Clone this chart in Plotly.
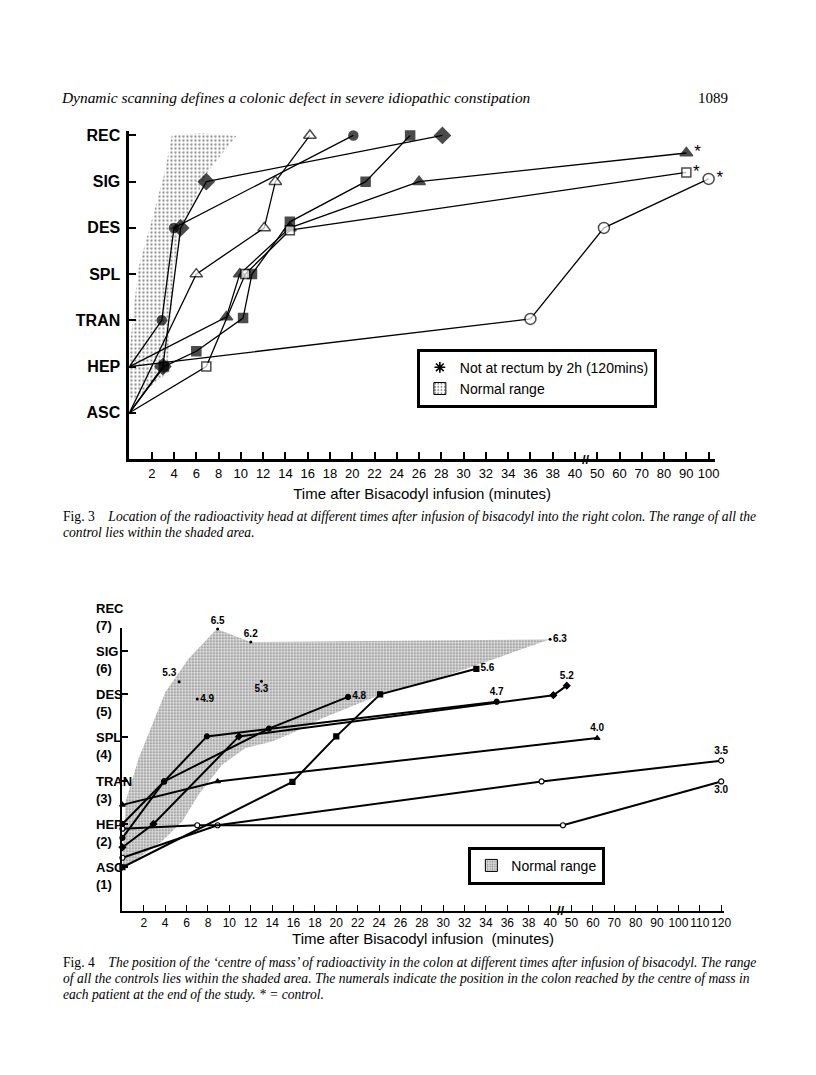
import plotly.graph_objects as go

# page is 816x1075; the browser adds an 8px body margin, so the figure is 800x1059
MARGIN = 8
W, H = 816 - 2 * MARGIN, 1075 - 2 * MARGIN
OFFX, OFFY = 8, 11


def fx(p):  # page pixel x -> paper fraction
    return (p - OFFX) / W


def fy(p):  # page pixel y -> paper fraction
    return 1 - (p - OFFY) / H


# ---------------- data ----------------
levels3 = ["ASC", "HEP", "TRAN", "SPL", "DES", "SIG", "REC"]
xticks3_min = [2, 4, 6, 8, 10, 12, 14, 16, 18, 20, 22, 24, 26, 28, 30, 32, 34, 36, 38, 40,
               50, 60, 70, 80, 90, 100]
xticks4_min = [2, 4, 6, 8, 10, 12, 14, 16, 18, 20, 22, 24, 26, 28, 30, 32, 34, 36, 38, 40,
               50, 60, 70, 80, 90, 100, 110, 120]

# Fig 3 : location of radioactivity head (level 1=ASC ... 7=REC)
circ_t = [0, 2.9, 4.0, 20.1]
circ_L = [2, 3, 5, 7]
diam_t = [0, 3.0, 4.6, 6.9, 28.1]
diam_L = [1, 2, 5, 6, 7]
otri_t = [0, 6.0, 12.1, 13.1, 16.2]
otri_L = [1, 4, 5, 6, 7]
fsq_t = [0, 3.1, 6.0, 10.2, 11.0, 14.4, 21.2, 25.2]
fsq_L = [1, 2, 2.33, 3.05, 4, 5.13, 6, 7]
ftri_t = [0, 8.7, 9.9, 14.4, 26.0, 90]
ftri_L = [2, 3.07, 4, 5, 6, 6.62]
osq_t = [0, 6.9, 10.4, 14.4, 90]
osq_L = [1, 2, 4, 4.95, 6.2]
ocirc_t = [0, 36, 53, 100]
ocirc_L = [2, 3.03, 5.0, 6.06]

norm3_t = [0, 0, 0.4, 0.83, 2.0, 3.2, 3.8, 6.5, 9.6, 7.1, 5.0, 4.0, 3.7, 3.4, 0.5]
norm3_L = [1.29, 2.3, 3.3, 4.16, 5.17, 6.24, 7.0, 7.05, 6.99, 6.24, 5.17, 4.16, 3.01, 1.86, 1.29]

# Fig 4 : centre of mass
s40_t = [0, 8.9, 62]
s40_L = [2.44, 2.98, 3.98]
s35_t = [0, 8.9, 39.2, 120]
s35_L = [1.22, 1.97, 2.98, 3.46]
s30_t = [0, 7.0, 46, 120]
s30_L = [1.89, 1.97, 1.97, 2.98]
s56_t = [0, 15.9, 20, 24.1, 33.1]
s56_L = [1.0, 2.97, 4.02, 4.99, 5.58]
s47_t = [0, 3.9, 7.9, 35]
s47_L = [2.0, 2.98, 4.02, 4.82]
s52_t = [0, 2.9, 10.9, 41.5, 47.8]
s52_L = [1.46, 2.0, 4.02, 4.97, 5.19]
s48_t = [0, 3.9, 13.7, 21.1]
s48_L = [1.68, 2.98, 4.2, 4.93]

ctrl_t = [5.3, 7.0, 8.9, 12.0, 13.0, 40.0]
ctrl_L = [5.28, 4.88, 6.5, 6.2, 5.29, 6.26]
ctrl_lab = ["5.3", "4.9", "6.5", "6.2", "5.3", "6.3"]

norm4_t = [0, 0.29, 1.53, 4.03, 6.2, 8.82, 12.0, 16.5, 40.0,
           29.6, 24.0, 18.7, 16.2, 14.0, 11.5, 9.3, 7.1, 5.6, 3.7, 1.5, 0]
norm4_L = [1.0, 2.52, 3.52, 5.05, 5.82, 6.5, 6.2, 6.21, 6.26,
           5.36, 4.97, 4.44, 4.13, 3.90, 3.75, 3.36, 2.67, 2.06, 1.60, 1.22, 1.03]


# broken time axis: linear to 40 min, then 10 min per 2-min slot
def pos(ts):
    return [t if t <= 40 else 40 + (t - 40) / 5 for t in ts]


fig = go.Figure()

SERIF = "Liberation Serif"
SANS = "Liberation Sans"
stipple3 = dict(shape=".", fgcolor="#111", bgcolor="white", size=4, solidity=0.25)
stipple4 = dict(shape=".", fgcolor="#111", bgcolor="#e2e2e2", size=3, solidity=0.3)

# ---------------- Fig 3 ----------------
fig.add_trace(go.Scatter(
    x=pos(norm3_t), y=norm3_L, mode="lines", fill="toself",
    line=dict(width=0, color="rgba(0,0,0,0)"), fillcolor="white",
    fillpattern=stipple3, showlegend=False, hoverinfo="skip"))

# legend entries for fig 3
fig.add_trace(go.Scatter(
    x=[None], y=[None], mode="markers",
    marker=dict(symbol="asterisk-open", size=9, color="black",
                line=dict(width=1.6, color="black")),
    name="Not at rectum by 2h (120mins)", legend="legend", legendrank=1))
fig.add_trace(go.Bar(
    x=[None], y=[None], name="Normal range", legend="legend", legendrank=2,
    marker=dict(color="white", pattern=stipple3, line=dict(color="black", width=1))))


def series3(t, L, symbol, filled, size, star=False):
    sizes = [0] + [size] * (len(t) - 1)
    txt = [""] * (len(t) - 1) + (["*"] if star else [""])
    fig.add_trace(go.Scatter(
        x=pos(t), y=L, mode="lines+markers+text" if star else "lines+markers",
        line=dict(color="black", width=1.3),
        marker=dict(symbol=symbol, size=sizes,
                    color="black" if filled else "white",
                    line=dict(color="black", width=1.5)),
        text=txt, textposition="middle right",
        textfont=dict(family=SANS, size=17, color="black"),
        showlegend=False, cliponaxis=False, xaxis="x", yaxis="y"))


series3(circ_t, circ_L, "circle", True, 9)
series3(diam_t, diam_L, "diamond", True, 12)
series3(otri_t, otri_L, "triangle-up", False, 11)
series3(fsq_t, fsq_L, "square", True, 9)
series3(ftri_t, ftri_L, "triangle-up", True, 11, star=True)
series3(osq_t, osq_L, "square", False, 9, star=True)
series3(ocirc_t, ocirc_L, "circle", False, 11, star=True)

# ---------------- Fig 4 ----------------
fig.add_trace(go.Scatter(
    x=pos(norm4_t), y=norm4_L, mode="lines", fill="toself",
    line=dict(width=0, color="rgba(0,0,0,0)"), fillcolor="#e2e2e2",
    fillpattern=stipple4, showlegend=False, hoverinfo="skip",
    xaxis="x2", yaxis="y2"))
fig.add_trace(go.Bar(
    x=[None], y=[None], name="Normal range", legend="legend2",
    marker=dict(color="#e2e2e2", pattern=stipple4, line=dict(color="black", width=1)),
    xaxis="x2", yaxis="y2"))


def series4(t, L, label, tpos, symbol, filled):
    txt = [""] * (len(t) - 1) + [label]
    fig.add_trace(go.Scatter(
        x=pos(t), y=L, mode="lines+markers+text",
        line=dict(color="black", width=2),
        marker=dict(symbol=symbol, size=5, color="black" if filled else "white",
                    line=dict(color="black", width=1.2)),
        text=txt, textposition=tpos,
        textfont=dict(family=SANS, size=10, color="black", weight="bold"),
        showlegend=False, cliponaxis=False, xaxis="x2", yaxis="y2"))


series4(s40_t, s40_L, "4.0", "top center", "triangle-up", True)
series4(s35_t, s35_L, "3.5", "top center", "circle", False)
series4(s30_t, s30_L, "3.0", "bottom center", "circle", False)
series4(s56_t, s56_L, "5.6", "middle right", "square", True)
series4(s47_t, s47_L, "4.7", "top center", "circle", True)
series4(s52_t, s52_L, "5.2", "top center", "diamond", True)
series4(s48_t, s48_L, "4.8", "middle right", "circle", True)

fig.add_trace(go.Scatter(
    x=pos(ctrl_t), y=ctrl_L, mode="markers+text",
    marker=dict(symbol="circle", size=3, color="black"),
    text=ctrl_lab,
    textposition=["top left", "middle right", "top center", "top center",
                  "bottom center", "middle right"],
    textfont=dict(family=SANS, size=10, color="black", weight="bold"),
    showlegend=False, cliponaxis=False, xaxis="x2", yaxis="y2"))

# ---------------- axes ----------------
x3_left, x3_right, x3_scale = 130.7, 722, 11.25
y3_bot, y3_top, y3_scale = 459.7, 130, 46.4
x4_left, x4_right, x4_scale = 123.6, 731, 10.8
y4_bot, y4_top, y4_scale = 913, 629, 43.5

fig.update_layout(
    width=W, height=H, margin=dict(l=0, r=0, t=0, b=0),
    paper_bgcolor="white", plot_bgcolor="rgba(0,0,0,0)", barmode="overlay",
    xaxis=dict(domain=[fx(x3_left), fx(x3_right)],
               range=[0, (x3_right - x3_left) / x3_scale],
               showgrid=False, zeroline=False, showline=True, linewidth=3, linecolor="black",
               ticks="inside", ticklen=7, tickwidth=1.5, tickcolor="black", tickangle=0,
               tickvals=pos(xticks3_min), ticktext=[str(v) for v in xticks3_min],
               tickfont=dict(family=SANS, size=13, color="black"),
               title=dict(text="Time after Bisacodyl infusion (minutes)",
                          font=dict(family=SANS, size=15, color="black"), standoff=9),
               anchor="y"),
    yaxis=dict(domain=[fy(y3_bot), fy(y3_top)],
               range=[0, (y3_bot - y3_top) / y3_scale],
               showgrid=False, zeroline=False, showline=True, linewidth=3, linecolor="black",
               ticks="inside", ticklen=7, tickwidth=2, tickcolor="black",
               tickvals=[1, 2, 3, 4, 5, 6, 7], ticktext=levels3,
               tickfont=dict(family=SANS, size=16, color="black", weight="bold"),
               ticklabelstandoff=3,
               anchor="x"),
    xaxis2=dict(domain=[fx(x4_left), fx(x4_right)],
                range=[0, (x4_right - x4_left) / x4_scale],
                showgrid=False, zeroline=False, showline=True, linewidth=2, linecolor="black",
                ticks="inside", ticklen=6, tickwidth=1.3, tickcolor="black", tickangle=0,
                tickvals=pos(xticks4_min), ticktext=[str(v) for v in xticks4_min],
                tickfont=dict(family=SANS, size=12, color="black"),
                title=dict(text="Time after Bisacodyl infusion  (minutes)",
                           font=dict(family=SANS, size=15, color="black"), standoff=5),
                anchor="y2"),
    yaxis2=dict(domain=[fy(y4_bot), fy(y4_top)],
                range=[0, (y4_bot - y4_top) / y4_scale],
                showgrid=False, zeroline=False, showline=True, linewidth=2, linecolor="black",
                ticks="inside", ticklen=6, tickwidth=1.5, tickcolor="black",
                tickvals=[1, 2, 3, 4, 5, 6], showticklabels=False,
                anchor="x2"),
    legend=dict(x=fx(421), y=fy(349), xanchor="left", yanchor="top",
                bordercolor="black", borderwidth=3, bgcolor="white",
                font=dict(family=SANS, size=14, color="black"),
                itemwidth=30, tracegroupgap=8),
    legend2=dict(x=fx(473), y=fy(849), xanchor="left", yanchor="top",
                 bordercolor="black", borderwidth=3, bgcolor="white",
                 font=dict(family=SANS, size=14, color="black"),
                 itemwidth=30),
    showlegend=True,
)

ann = []
# page header
ann.append(dict(text="<i>Dynamic scanning defines a colonic defect in severe idiopathic constipation</i>",
                x=fx(60), y=fy(97), xref="paper", yref="paper", xanchor="left", yanchor="middle",
                showarrow=False, font=dict(family=SERIF, size=15.4, color="black")))
ann.append(dict(text="1089", x=fx(737), y=fy(97), xref="paper", yref="paper",
                xanchor="right", yanchor="middle", showarrow=False,
                font=dict(family=SERIF, size=15, color="black")))

# axis breaks
for xa, ya in (("x", "y"), ("x2", "y2")):
    ann.append(dict(text="<b>//</b>", x=41, y=0, xref=xa, yref=ya, showarrow=False,
                    xanchor="center", yanchor="middle",
                    font=dict(family=SANS, size=13, color="black")))

# fig 4 level labels
names4 = ["ASC", "HEP", "TRAN", "SPL", "DES", "SIG"]
for i, nm in enumerate(names4):
    ann.append(dict(text=f"<b>{nm}</b><br><b>({i + 1})</b>", x=fx(95), y=i + 1,
                    xref="paper", yref="y2", xanchor="left", yanchor="top", yshift=9,
                    align="left", showarrow=False,
                    font=dict(family=SANS, size=13, color="black")))
ann.append(dict(text="<b>REC</b><br><b>(7)</b>", x=fx(95), y=fy(600),
                xref="paper", yref="paper", xanchor="left", yanchor="top",
                align="left", showarrow=False, font=dict(family=SANS, size=13, color="black")))

# captions
cap = dict(xref="paper", yref="paper", xanchor="left", yanchor="middle", showarrow=False,
           font=dict(family=SERIF, size=13.6, color="black"))
caps = [
    (517, "Fig. 3    <i>Location of the radioactivity head at different times after infusion of bisacodyl into the right colon. The range of all the</i>"),
    (533, "<i>control lies within the shaded area.</i>"),
    (965, "Fig. 4    <i>The position of the \u2018centre of mass\u2019 of radioactivity in the colon at different times after infusion of bisacodyl. The range</i>"),
    (981, "<i>of all the controls lies within the shaded area. The numerals indicate the position in the colon reached by the centre of mass in</i>"),
    (997, "<i>each patient at the end of the study. * = control.</i>"),
]
for yy, tx in caps:
    ann.append(dict(text=tx, x=fx(62), y=fy(yy), **cap))

fig.update_layout(annotations=ann)

fig.write_html("out.html")
